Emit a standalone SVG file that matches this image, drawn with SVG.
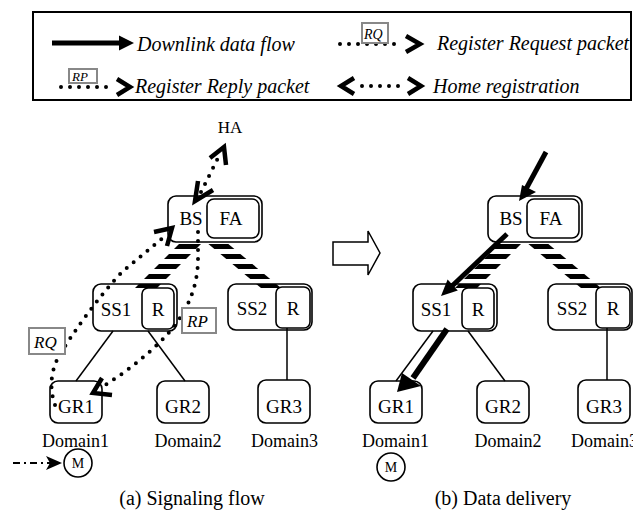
<svg xmlns="http://www.w3.org/2000/svg" width="633" height="510" viewBox="0 0 633 510" font-family="Liberation Serif, Times New Roman, Times, Tinos, DejaVu Serif, Noto Serif, FreeSerif, serif">
<style>
.box{fill:#fff;stroke:#000;stroke-width:1.6}
.t{font-size:19px;fill:#000;text-anchor:middle}
.it{font-style:italic;font-size:20px;fill:#000}
.tag{fill:#fff;stroke:#888;stroke-width:2}
.tagt{font-style:italic;font-size:17px;fill:#000}
.dot{fill:none;stroke:#000;stroke-width:4;stroke-dasharray:0 9;stroke-linecap:round}
.chev{fill:none;stroke:#000;stroke-width:4.5;stroke-linejoin:miter;stroke-linecap:butt}
.edge{fill:none;stroke:#000;stroke-width:1.5}
.thick{fill:none;stroke:#000;stroke-width:5}
</style>
<defs>
<pattern id="stripes" patternUnits="userSpaceOnUse" x="0" y="244" width="20" height="10">
<rect x="0" y="0" width="20" height="5" fill="#000"/>
</pattern>
</defs>

<g id="legend">
<rect x="33" y="12" width="598" height="88" fill="none" stroke="#000" stroke-width="2"/>
<line x1="52" y1="43" x2="121" y2="43" class="thick"/>
<polygon points="119,35.5 134,43 119,50.5" fill="#000"/>
<text class="it" x="137" y="51">Downlink data flow</text>
<line x1="340" y1="44" x2="400" y2="44" class="dot"/>
<rect class="tag" x="362" y="23" width="26" height="20" style="fill:none"/>
<text class="tagt" x="364" y="39" style="font-size:14px">RQ</text>
<polyline class="chev" points="406,36 420,44 406,52"/>
<text class="it" x="437" y="50">Register Request packet</text>
<line x1="61" y1="87" x2="112" y2="87" class="dot"/>
<rect class="tag" x="69" y="69" width="28" height="14" style="fill:none"/>
<text class="tagt" x="72" y="81" style="font-size:13px">RP</text>
<polyline class="chev" points="117,79 130,87 117,95"/>
<text class="it" x="135" y="93">Register Reply packet</text>
<polyline class="chev" points="354,78 341,86 354,94"/>
<line x1="362" y1="86" x2="400" y2="86" class="dot"/>
<polyline class="chev" points="408,78 421,86 408,94"/>
<text class="it" x="433" y="93">Home registration</text>
</g>

<g id="a-HA"><text class="t" x="230" y="133" style="font-size:17px">HA</text></g>
<g id="a-BS">
<rect class="box" x="168" y="196" width="94" height="46" rx="8"/>
<rect class="box" x="207" y="199" width="52" height="39" rx="7"/>
<text class="t" x="191" y="225">BS</text>
<text class="t" x="231" y="225">FA</text>
</g>
<g id="a-SS1">
<rect class="box" x="93" y="284" width="84" height="47" rx="8"/>
<rect class="box" x="142" y="288" width="32" height="41" rx="6"/>
<text class="t" x="116" y="316">SS1</text>
<text class="t" x="158" y="316">R</text>
</g>
<g id="a-SS2">
<rect class="box" x="228" y="284" width="84" height="46" rx="8"/>
<rect class="box" x="276" y="287" width="34" height="41" rx="6"/>
<text class="t" x="252" y="315">SS2</text>
<text class="t" x="293" y="315">R</text>
</g>
<g id="a-GR1"><rect class="box" x="50" y="381" width="52" height="42" rx="8"/><text class="t" x="76" y="413">GR1</text></g>
<g id="a-GR2"><rect class="box" x="157" y="381" width="52" height="42" rx="8"/><text class="t" x="183" y="413">GR2</text></g>
<g id="a-GR3"><rect class="box" x="258" y="380" width="52" height="43" rx="8"/><text class="t" x="284" y="413">GR3</text></g>
<g id="a-domains">
<text class="t" x="75.5" y="447" style="font-size:18px">Domain1</text>
<text class="t" x="188" y="447" style="font-size:18px">Domain2</text>
<text class="t" x="284.5" y="447" style="font-size:18px">Domain3</text>
</g>
<g id="a-M">
<circle cx="78" cy="463" r="14" fill="#fff" stroke="#000" stroke-width="1.6"/>
<text class="t" x="78" y="468" style="font-size:14px">M</text>
</g>
<g id="a-caption"><text class="t" x="192" y="505" style="font-size:20px">(a) Signaling flow</text></g>

<g id="b-BS">
<rect class="box" x="488" y="196" width="94" height="46" rx="8"/>
<rect class="box" x="527" y="199" width="52" height="39" rx="7"/>
<text class="t" x="511" y="225">BS</text>
<text class="t" x="551" y="225">FA</text>
</g>
<g id="b-SS1">
<rect class="box" x="413" y="284" width="84" height="47" rx="8"/>
<rect class="box" x="462" y="288" width="32" height="41" rx="6"/>
<text class="t" x="436" y="316">SS1</text>
<text class="t" x="478" y="316">R</text>
</g>
<g id="b-SS2">
<rect class="box" x="548" y="284" width="84" height="46" rx="8"/>
<rect class="box" x="596" y="287" width="34" height="41" rx="6"/>
<text class="t" x="572" y="315">SS2</text>
<text class="t" x="613" y="315">R</text>
</g>
<g id="b-GR1"><rect class="box" x="370" y="381" width="52" height="42" rx="8"/><text class="t" x="396" y="413">GR1</text></g>
<g id="b-GR2"><rect class="box" x="477" y="381" width="52" height="42" rx="8"/><text class="t" x="503" y="413">GR2</text></g>
<g id="b-GR3"><rect class="box" x="578" y="380" width="52" height="43" rx="8"/><text class="t" x="604" y="413">GR3</text></g>
<g id="b-domains">
<text class="t" x="395.5" y="447" style="font-size:18px">Domain1</text>
<text class="t" x="508" y="447" style="font-size:18px">Domain2</text>
<text class="t" x="604.5" y="447" style="font-size:18px">Domain3</text>
</g>
<g id="b-M">
<circle cx="391" cy="467" r="14" fill="#fff" stroke="#000" stroke-width="1.6"/>
<text class="t" x="391" y="472" style="font-size:14px">M</text>
</g>
<g id="b-caption"><text class="t" x="503" y="505" style="font-size:20px">(b) Data delivery</text></g>

<g id="transition">
<polygon points="333,242 368,242 368,231 380,253 368,275 368,265 333,265" fill="#fff" stroke="#000" stroke-width="1.5"/>
</g>

<g id="connectors">
<line class="edge" x1="113" y1="331" x2="76" y2="381"/>
<line class="edge" x1="148" y1="331" x2="185" y2="381"/>
<line class="edge" x1="287" y1="328" x2="287" y2="380"/>
<polygon points="181,242 203,242 157,288 135,288" fill="url(#stripes)"/>
<polygon points="206,242 226,242 281,288 261,288" fill="url(#stripes)"/>
<line class="edge" x1="433" y1="331" x2="396" y2="381"/>
<line class="edge" x1="468" y1="331" x2="505" y2="381"/>
<line class="edge" x1="607" y1="328" x2="607" y2="380"/>
<polygon points="501,242 523,242 477,288 455,288" fill="url(#stripes)"/>
<polygon points="526,242 546,242 601,288 581,288" fill="url(#stripes)"/>

<line class="dot" x1="201" y1="192" x2="220" y2="154"/>
<polyline class="chev" points="210,158 224,147 226,165"/>
<polyline class="chev" points="198,181 195,201 213,190"/>

<path class="dot" d="M55,405 C48,385 52,366 62,351 C75,330 100,295 122,272 L165,236"/>
<polyline class="chev" points="154,232 172,228 167,246"/>
<rect class="tag" x="29" y="328" width="36" height="26"/>
<text class="tagt" x="34" y="348">RQ</text>

<path class="dot" d="M198,232 L198,262 C197,285 190,305 175,325 C160,345 130,370 102,387"/>
<polyline class="chev" points="102,378 93,393 112,395"/>
<rect class="tag" x="182" y="308" width="34" height="25"/>
<text class="tagt" x="187" y="327">RP</text>

<line x1="13" y1="463" x2="50" y2="463" stroke="#000" stroke-width="2" stroke-dasharray="7 4 2 4"/>
<polygon points="46,456 62,463 46,470 50,463" fill="#000"/>

<line class="thick" x1="546" y1="152" x2="526" y2="189"/>
<polygon points="519,201 522,185 536,192" fill="#000"/>
<line class="thick" x1="507" y1="234" x2="451" y2="287"/>
<polygon points="441,296 447.6,279.5 457.8,290.5" fill="#000"/>
<line x1="447" y1="329" x2="413" y2="378" stroke="#000" stroke-width="6"/>
<polygon points="397,392 402,373 421,386" fill="#000"/>
</g>
</svg>
